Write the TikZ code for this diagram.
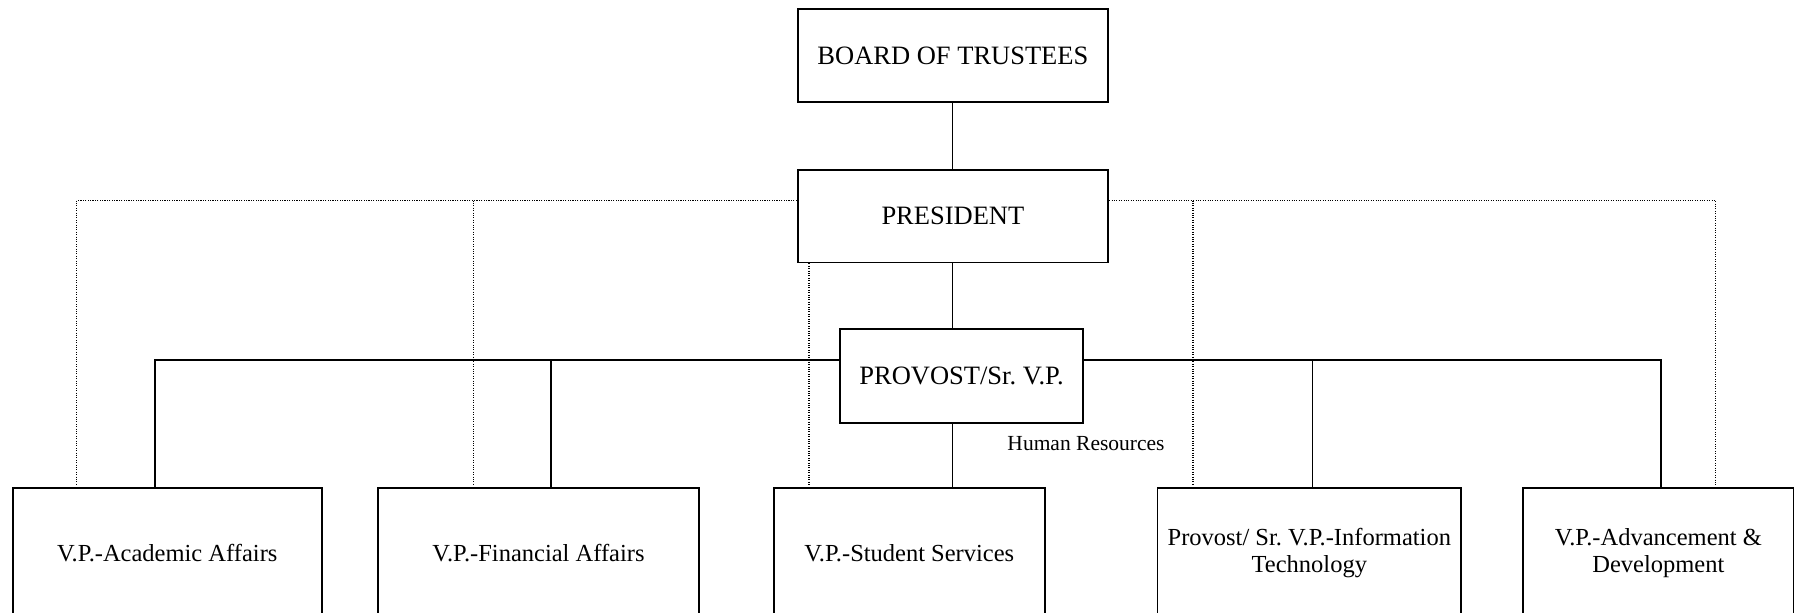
\documentclass[tikz,border=0pt]{standalone}
\usepackage{fontspec}
\setmainfont{Liberation Serif}
\frenchspacing
\begin{document}
\begin{tikzpicture}[x=1pt,y=1pt,
  box/.style={draw, line width=1.8pt, fill=white, inner sep=0pt, align=center},
  big/.style={font=\fontsize{26.5}{30}\selectfont},
  small/.style={font=\fontsize{24.5}{27.5}\selectfont},
  link/.style={line width=1.8pt},
  dotline/.style={line width=1.2pt, dash pattern=on 1.1pt off 1.3pt, black, shorten >=2pt}]
\useasboundingbox (0,0) rectangle (1797,-613);
\clip (0,0) rectangle (1797,-613);

% boxes
\node[box,big,minimum width=310.6pt,minimum height=92.8pt] (board) at (952.9,-55.6) {BOARD OF TRUSTEES};
\node[box,big,minimum width=310.6pt,minimum height=92.8pt] (president) at (952.9,-216) {PRESIDENT};
\node[box,big,minimum width=243pt,minimum height=94pt] (provost) at (961.5,-376) {PROVOST/Sr. V.P.};

\node[box,small,minimum width=309.4pt,minimum height=130pt] (academic) at (167.3,-553) {V.P.-Academic Affairs};
\node[box,small,minimum width=321pt,minimum height=130pt] (financial) at (538.5,-553) {V.P.-Financial Affairs};
\node[box,small,minimum width=271.4pt,minimum height=130pt] (student) at (909.3,-553) {V.P.-Student Services};
\node[box,small,minimum width=303.5pt,minimum height=130pt] (it) at (1309.3,-553) {Provost/ Sr. V.P.-Information\\Technology};
\node[box,small,minimum width=270.5pt,minimum height=130pt] (adv) at (1658.3,-553) {V.P.-Advancement \&\\Development};

\node[font=\fontsize{21.5}{24}\selectfont, inner sep=0pt] (hr) at (1086,-443.5) {Human Resources};

% helper coordinates
\coordinate (spine) at (952.5,0);
\coordinate (busL) at (154.7,-359.8);
\coordinate (busR) at (1660.6,-359.8);
\coordinate (busF) at (551,-359.8);
\coordinate (busI) at (1312.5,-359.8);
\coordinate (dotL) at (76.8,-200.5);
\coordinate (dotF) at (473.3,-200.5);
\coordinate (dotS) at (809,0);
\coordinate (dotI) at (1193,-200.5);
\coordinate (dotR) at (1715.6,-200.5);

% solid connectors
\draw[link] (board.south -| spine) -- (president.north -| spine);
\draw[link] (president.south -| spine) -- (provost.north -| spine);
\draw[link] (provost.south -| spine) -- (student.north -| spine);
\draw[link] (provost.west |- busL) -- (busL) -- (busL |- academic.north);
\draw[link] (busF) -- (busF |- financial.north);
\draw[link] (provost.east |- busR) -- (busR) -- (busR |- adv.north);
\draw[link] (busI) -- (busI |- it.north);

% dotted connectors
\draw[dotline] (president.west |- dotL) -- (dotL) -- (dotL |- academic.north);
\draw[dotline] (dotF) -- (dotF |- financial.north);
\draw[dotline] (president.east |- dotR) -- (dotR) -- (dotR |- adv.north);
\draw[dotline] (dotI) -- (dotI |- it.north);
\draw[dotline] (dotS |- president.south) -- (dotS |- student.north);
\end{tikzpicture}
\end{document}
